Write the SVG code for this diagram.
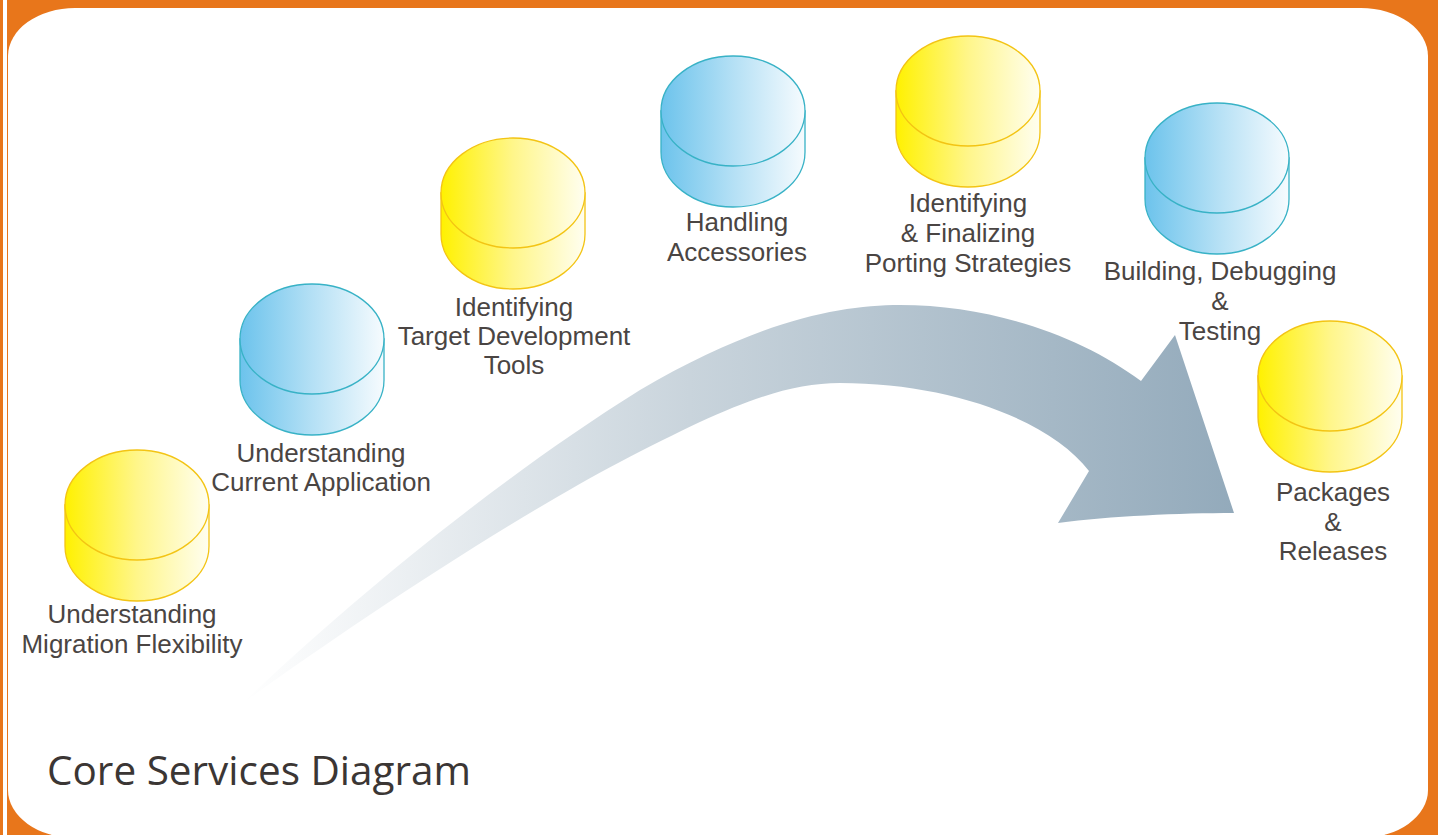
<svg xmlns="http://www.w3.org/2000/svg" width="1438" height="835" viewBox="0 0 1438 835">
<style>
.lbl{font-family:"Liberation Sans",Arial,sans-serif;font-size:26px;fill:#4a4543;text-anchor:middle}
.ycyl{fill:url(#gy);stroke:#f3c414;stroke-width:1.3}
.bcyl{fill:url(#gb);stroke:#38b2c6;stroke-width:1.3}
.title{font-family:"Open Sans","DejaVu Sans",sans-serif;font-size:41px;fill:#3b3634}
</style>
<defs>
<linearGradient id="gy" x1="0" y1="0" x2="1" y2="0">
<stop offset="0" stop-color="#fff100"/>
<stop offset="0.5" stop-color="#fff68a"/>
<stop offset="1" stop-color="#fffef0"/>
</linearGradient>
<linearGradient id="gb" x1="0" y1="0" x2="1" y2="0">
<stop offset="0" stop-color="#6cc3ec"/>
<stop offset="0.5" stop-color="#b4e0f5"/>
<stop offset="1" stop-color="#f6fbfe"/>
</linearGradient>
<linearGradient id="ga" gradientUnits="userSpaceOnUse" x1="243" y1="0" x2="1235" y2="0">
<stop offset="0" stop-color="#ffffff"/>
<stop offset="0.45" stop-color="#c9d4dc"/>
<stop offset="1" stop-color="#93aabb"/>
</linearGradient>
<g id="cylY">
<path class="ycyl" d="M-72,55 L-72,96 A72,55 0 0 0 72,96 L72,55 Z"/>
<ellipse class="ycyl" cx="0" cy="55" rx="72" ry="55"/>
</g>
<g id="cylB">
<path class="bcyl" d="M-72,55 L-72,96 A72,55 0 0 0 72,96 L72,55 Z"/>
<ellipse class="bcyl" cx="0" cy="55" rx="72" ry="55"/>
</g>
</defs>
<g id="frame">
<rect x="0" y="0" width="1438" height="835" fill="#e8761b"/>
<rect x="3" y="0" width="4" height="835" fill="#ffffff"/>
<rect x="8" y="8" width="1420" height="830" rx="67" ry="48" fill="#ffffff"/>
</g>
<g id="connectors">
<path d="M243,703 C330,620 480,490 640,390 C760,320 840,305 900,305 C990,305 1080,335 1141,381 L1175,335 L1234,513 C1180,513 1110,516 1058,523 L1089,471 C1050,420 950,383 840,383 C780,383 720,410 620,462 C500,525 330,640 243,703 Z" fill="url(#ga)"/>
</g>
<g id="n1">
<use href="#cylY" x="137" y="450"/>
<text class="lbl" x="132" y="623">Understanding</text>
<text class="lbl" x="132" y="653">Migration Flexibility</text>
</g>
<g id="n2">
<use href="#cylB" x="312" y="284"/>
<text class="lbl" x="321" y="462">Understanding</text>
<text class="lbl" x="321" y="491">Current Application</text>
</g>
<g id="n3">
<use href="#cylY" x="513" y="138"/>
<text class="lbl" x="514" y="316">Identifying</text>
<text class="lbl" x="514" y="345">Target Development</text>
<text class="lbl" x="514" y="374">Tools</text>
</g>
<g id="n4">
<use href="#cylB" x="733" y="56"/>
<text class="lbl" x="737" y="231">Handling</text>
<text class="lbl" x="737" y="261">Accessories</text>
</g>
<g id="n5">
<use href="#cylY" x="968" y="36"/>
<text class="lbl" x="968" y="212">Identifying</text>
<text class="lbl" x="968" y="242">&amp; Finalizing</text>
<text class="lbl" x="968" y="272">Porting Strategies</text>
</g>
<g id="n6">
<use href="#cylB" x="1217" y="103"/>
<text class="lbl" x="1220" y="280">Building, Debugging</text>
<text class="lbl" x="1220" y="310">&amp;</text>
<text class="lbl" x="1220" y="340">Testing</text>
</g>
<g id="n7">
<use href="#cylY" x="1330" y="321"/>
<text class="lbl" x="1333" y="501">Packages</text>
<text class="lbl" x="1333" y="531">&amp;</text>
<text class="lbl" x="1333" y="560">Releases</text>
</g>
<g id="title">
<text class="title" x="47" y="785" textLength="424" lengthAdjust="spacingAndGlyphs">Core Services Diagram</text>
</g>
</svg>
